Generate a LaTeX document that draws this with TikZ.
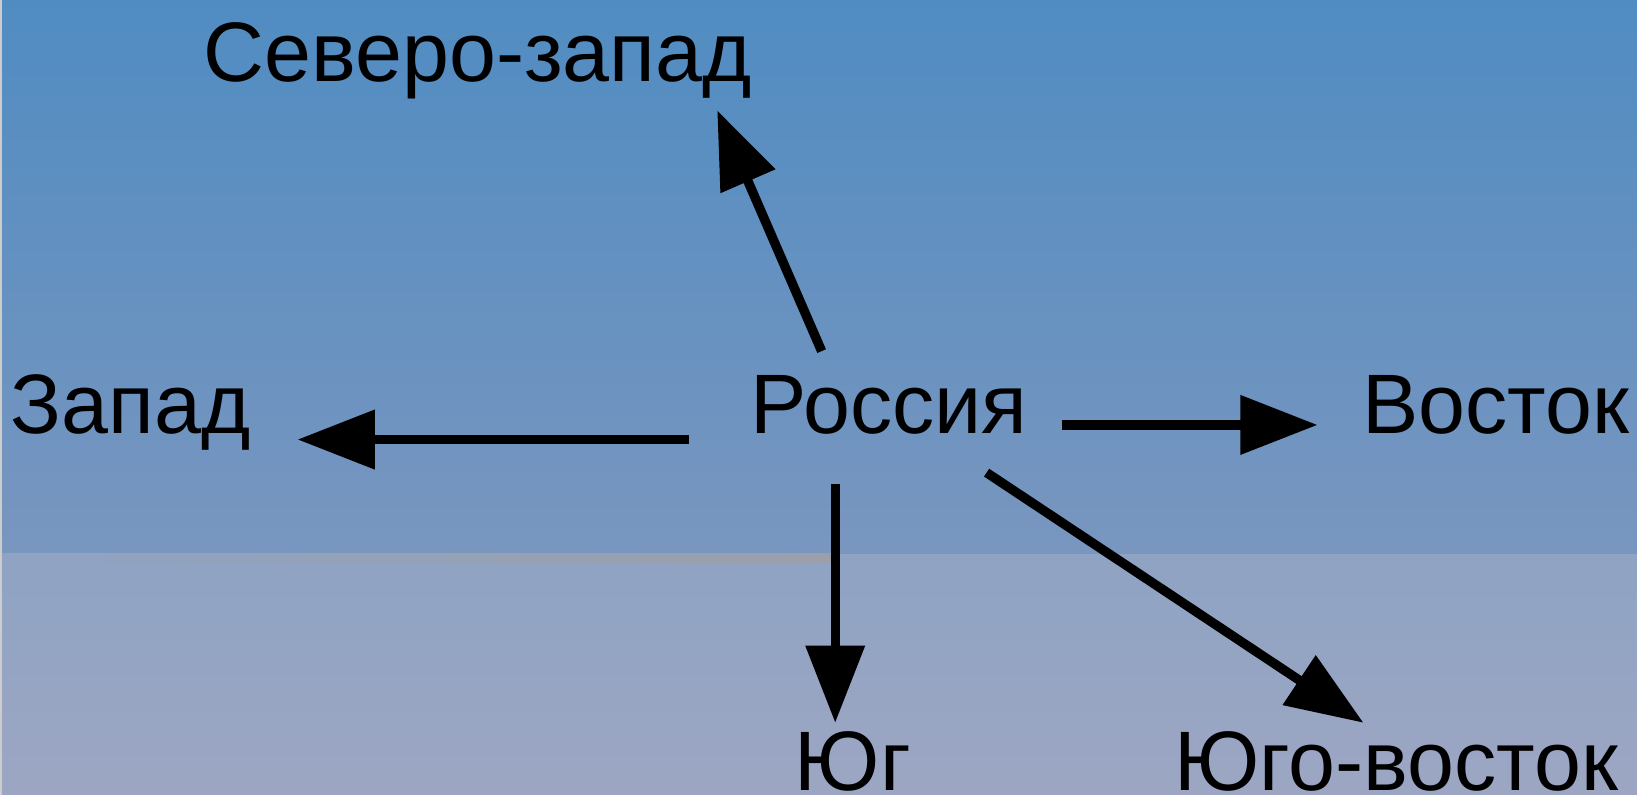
\documentclass[tikz,border=0pt]{standalone}
\usepackage{fontspec}
\setmainfont{Liberation Sans}
\usetikzlibrary{arrows.meta}

\definecolor{skytop}{RGB}{80,140,194}
\definecolor{skymid}{RGB}{121,150,191}
\definecolor{groundtop}{RGB}{143,163,195}
\definecolor{groundbot}{RGB}{156,166,195}
\definecolor{seam}{RGB}{154,159,170}

\begin{document}
\begin{tikzpicture}[
        node distance=2cm,
        place/.style={inner sep=0pt, text height=5.8mm, text depth=1.7mm, font=\fontsize{23}{28}\selectfont},
        arrow/.style={-{Triangle[length=7.4mm, width=5.5mm]}, line width=0.9mm}
    ]
        \useasboundingbox (0,0) rectangle (15.68,-7.61);
        \shade[top color=skytop, bottom color=skymid] (0,0) rectangle (15.68,-5.31);
        \shade[top color=groundtop, bottom color=groundbot] (0,-5.31) rectangle (15.68,-7.61);
        \shade[left color=groundtop, right color=seam] (0,-5.30) rectangle (7.97,-5.39);
        \fill[gray!40] (0,0) rectangle (0.02,-7.61);

        \node[place] (russia) at (8.515,-3.945) {Россия};
        \node[place, left of=russia, xshift=-5.265cm] (west) {Запад};
        \node[place, right of=russia, xshift=3.81cm] (east) {Восток};
        \node[place, above of=russia, xshift=-3.94cm, yshift=1.37cm] (northwest) {Северо-запад};
        \node[place, below of=russia, xshift=-0.345cm, yshift=-1.42cm] (south) {Юг};
        \node[place, below of=russia, xshift=4.86cm, yshift=-1.42cm] (southeast) {Юго-восток};

        \draw[arrow] ([xshift=-0.645cm, yshift=0.2cm]russia.north) -- ([xshift=2.295cm, yshift=-0.1cm]northwest.south);
        \draw[arrow] ([xshift=-1.915cm, yshift=-0.06cm]russia.base) -- ([xshift=1.6cm, yshift=-0.06cm]west.base);
        \draw[arrow] ([xshift=1.655cm, yshift=0.08cm]russia.base) -- ([xshift=-1.705cm, yshift=0.08cm]east.base);
        \draw[arrow] ([xshift=-0.515cm, yshift=-0.31cm]russia.south) -- ([xshift=-0.17cm, yshift=0.06cm]south.north);
        \draw[arrow] ([xshift=0.935cm, yshift=-0.2cm]russia.south) -- ([xshift=-0.315cm, yshift=0.06cm]southeast.north);
    \end{tikzpicture}
\end{document}
